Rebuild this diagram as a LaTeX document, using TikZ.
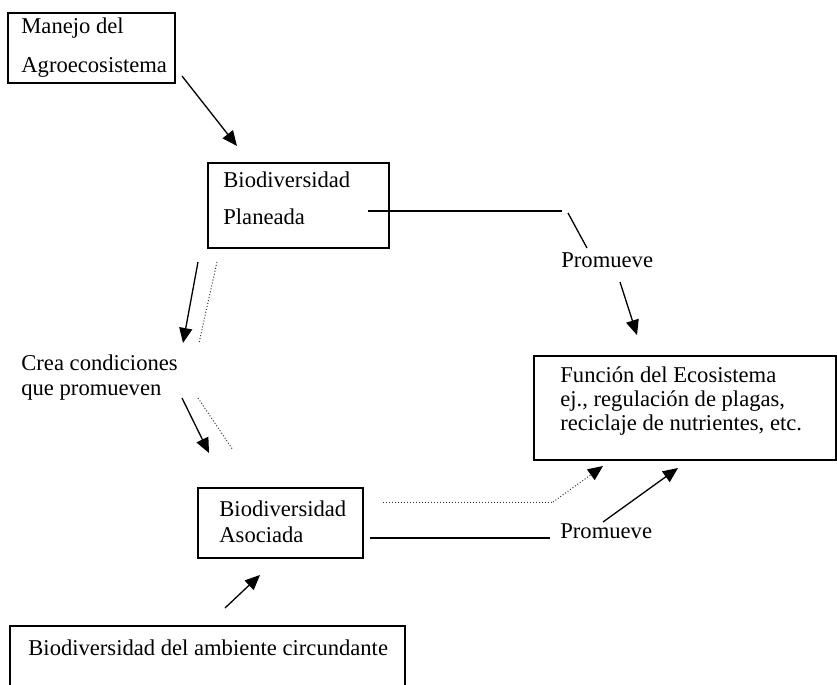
\documentclass[tikz,border=0pt]{standalone}
\usepackage{fontspec}
\setmainfont{Liberation Serif}
\usetikzlibrary{arrows.meta, positioning}

\tikzset{
  box/.style={draw, rectangle, line width=0.65pt, inner sep=0pt},
  txt/.style={anchor=west, inner sep=0pt, align=left},
  link/.style={line width=0.65pt},
  arrow/.style={line width=0.65pt, -{Triangle[length=7.5pt,width=6.5pt]}},
  faint/.style={line width=0.5pt, densely dotted, black!80}
}

\begin{document}
\begin{tikzpicture}[x=0.5pt, y=-0.5pt, font=\fontsize{11.3}{13.5}\selectfont]
\useasboundingbox (0,0) rectangle (837,685);

% Boxes
\node[box, minimum width=83.5pt, minimum height=35pt] (manejo) at (91.5,48) {};
\node[box, minimum width=90.5pt, minimum height=42.5pt] (planeada) at (298.5,205.5) {};
\node[box, minimum width=151pt, minimum height=52pt] (funcion) at (685,408) {};
\node[box, minimum width=82.5pt, minimum height=35pt] (asociada) at (280.5,523) {};
\node[box, minimum width=197.5pt, minimum height=50pt] (ambiente) at (207.5,676) {};

% Texts
\node[txt, font=\fontsize{11.3}{19.5}\selectfont] (manejoT) at (21,47.5) {Manejo del\\Agroecosistema};
\node[txt, font=\fontsize{11.3}{18.5}\selectfont] (planeadaT) at (223,198.5) {Biodiversidad\\Planeada};
\node[txt, font=\fontsize{11.3}{12}\selectfont] (funcionT) at (560,401) {Función del Ecosistema\\ej., regulación de plagas,\\reciclaje de nutrientes, etc.};
\node[txt, font=\fontsize{11.3}{13}\selectfont] (asociadaT) at (219,522) {Biodiversidad\\Asociada};
\node[txt] (ambienteT) at (28,648) {Biodiversidad del ambiente circundante};
\node[txt, font=\fontsize{11.3}{12.5}\selectfont] (crea) at (21,377.5) {Crea condiciones\\que promueven};
\node[txt] (promueveA) at (561,260) {Promueve};
\node[txt] (promueveB) at (560,531) {Promueve};

% Connector ends
\coordinate (m1) at (182,76);    \coordinate (m2) at (237,146);
\coordinate (p1) at (368,211);   \coordinate (p2) at (562,211);
\coordinate (p3) at (568,213);   \coordinate (p4) at (587,248);
\coordinate (p5) at (620,282);   \coordinate (p6) at (637,335);
\coordinate (c1) at (198,262);   \coordinate (c2) at (183,343);
\coordinate (c3) at (217,262);   \coordinate (c4) at (199,343);
\coordinate (c5) at (182,398);   \coordinate (c6) at (209,453);
\coordinate (c7) at (198,398);   \coordinate (c8) at (233,450);
\coordinate (a1) at (383,502);   \coordinate (a2) at (553,502);
\coordinate (a3) at (603,466);
\coordinate (a4) at (370,538);   \coordinate (a5) at (550,538);
\coordinate (a6) at (603,522);   \coordinate (a7) at (678,468);
\coordinate (b1) at (225,608);   \coordinate (b2) at (260,575);

% Connectors
\draw[arrow] (m1) -- (m2);
\draw[link] (p1) -- (p2);
\draw[link] (p3) -- (p4);
\draw[arrow] (p5) -- (p6);
\draw[arrow] (c1) -- (c2);
\draw[faint] (c3) -- (c4);
\draw[arrow] (c5) -- (c6);
\draw[faint] (c7) -- (c8);
\draw[faint] (a1) -- (a2);
\draw[faint, -{Triangle[length=7.5pt,width=6.5pt,black]}] (a2) -- (a3);
\draw[link] (a4) -- (a5);
\draw[arrow] (a6) -- (a7);
\draw[arrow] (b1) -- (b2);

\end{tikzpicture}
\end{document}
